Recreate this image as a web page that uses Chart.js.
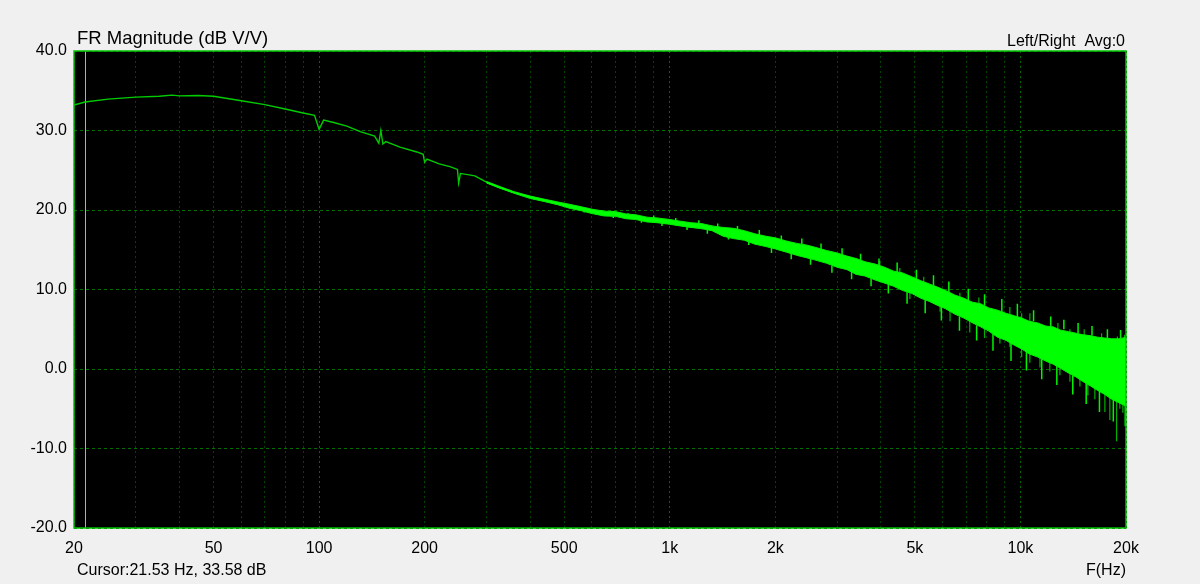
<!DOCTYPE html>
<html>
<head>
<meta charset="utf-8">
<script src="https://cdn.jsdelivr.net/npm/chart.js@4.4.0/dist/chart.umd.min.js"></script>
<style>
  html, body { margin: 0; padding: 0; background: #f0f0f0; }
  #wrap { width: 1200px; height: 584px; }
</style>
</head>
<body>
<div id="wrap"><canvas id="fr" width="1200" height="584"></canvas></div>
<script>
// texts
const titleText = 'FR Magnitude (dB V/V)';
const channelText = 'Left/Right  Avg:0';
const cursorText = 'Cursor:21.53 Hz, 33.58 dB';
const xAxisText = 'F(Hz)';
const cursorFreq = 21.53;

// x grid + labels
const gridFreqs = [20, 30, 40, 50, 60, 70, 80, 90, 100, 200, 300, 400, 500, 600, 700, 800, 900,
  1000, 2000, 3000, 4000, 5000, 6000, 7000, 8000, 9000, 10000, 20000];
const xLabelVals = [20, 50, 100, 200, 500, 1000, 2000, 5000, 10000, 20000];
const xLabelText = ['20', '50', '100', '200', '500', '1k', '2k', '5k', '10k', '20k'];

// main trace (center of the response)
const mainFreq = [20, 21.5, 25, 30, 35, 38, 40, 45, 50, 60, 70, 80, 90, 97, 100, 103, 110, 120, 131, 144,
  148, 150, 152, 155, 170, 190, 198, 200, 203, 220, 236, 248, 250, 253, 278, 300, 328, 360, 399, 440,
  486, 540, 592, 650, 721, 800, 878, 970, 1069, 1180, 1302, 1440, 1586, 1750, 1931, 2130, 2350, 2600,
  2862, 3150, 3486, 3850, 4245, 4680, 5169, 5700, 6300, 6722, 7400, 8185, 9000, 9966, 11000, 12134,
  13400, 14776, 16300, 17990, 20000];
const mainMag = [33.2, 33.58, 33.95, 34.2, 34.3, 34.45, 34.35, 34.4, 34.3, 33.75, 33.25, 32.7, 32.2, 31.9, 30.15, 31.3, 31.0, 30.55, 29.85, 29.3,
  28.4, 30.0, 28.3, 28.6, 27.9, 27.3, 27.0, 26.0, 26.4, 25.8, 25.45, 25.1, 23.4, 24.6, 24.3, 23.5, 22.8, 22.2, 21.6, 21.2,
  20.75, 20.25, 19.8, 19.55, 19.3, 18.95, 18.65, 18.4, 18.1, 17.8, 17.5, 17.2, 16.9, 16.4, 15.9, 15.45, 14.97, 14.5,
  14.0, 13.4, 12.7, 12.2, 11.6, 11.0, 10.2, 9.5, 8.6, 7.9, 7.2, 6.4, 5.7, 4.9, 4.1, 3.4,
  2.8, 2.2, 1.5, 0.9, 0.3];

// noise band envelope
const bandFreq = [300, 330, 360, 400, 440, 480, 520, 560, 600, 650,
  700, 750, 800, 860, 920, 1000, 1070, 1150, 1230, 1320,
  1420, 1520, 1630, 1750, 1880, 2000, 2150, 2300, 2450, 2600,
  2800, 3000, 3200, 3400, 3600, 3850, 4100, 4350, 4600, 4900,
  5200, 5500, 5800, 6100, 6500, 6900, 7300, 7700, 8100, 8600,
  9100, 9600, 10100, 10600, 11200, 11800, 12400, 13000, 13700, 14400,
  15100, 15800, 16600, 17400, 18200, 19000, 19600, 20000];
const bandHi = [23.6, 22.9, 22.3, 21.75, 21.35, 21.0, 20.7, 20.4, 20.1, 19.85,
  19.8, 19.5, 19.4, 19.1, 19.0, 18.8, 18.6, 18.4, 18.3, 18.0,
  17.8, 17.7, 17.4, 17.0, 16.7, 16.5, 16.1, 15.8, 15.6, 15.3,
  14.9, 14.6, 14.2, 13.9, 13.5, 13.2, 12.8, 12.3, 12.1, 11.6,
  11.1, 10.7, 10.3, 9.9, 9.3, 8.9, 8.4, 8.2, 7.7, 7.4,
  7.0, 6.7, 6.4, 6.0, 5.8, 5.4, 5.3, 4.9, 4.7, 4.5,
  4.3, 4.2, 4.0, 3.9, 3.8, 3.8, 3.9, 4.0];
const bandLo = [23.4, 22.7, 22.1, 21.45, 21.05, 20.65, 20.2, 19.9, 19.55, 19.25,
  19.2, 18.9, 18.8, 18.5, 18.4, 18.2, 18.0, 17.8, 17.7, 17.4,
  16.7, 16.4, 16.2, 15.7, 15.4, 15.1, 14.7, 14.3, 14.0, 13.7,
  13.3, 12.8, 12.5, 11.9, 11.7, 11.2, 10.8, 10.4, 9.9, 9.5,
  8.9, 8.5, 8.0, 7.6, 6.9, 6.4, 5.8, 5.3, 4.8, 4.0,
  3.6, 3.0, 2.5, 1.9, 1.5, 1.0, 0.6, 0.1, -0.5, -1.0,
  -1.6, -2.1, -2.7, -3.2, -3.8, -4.2, -4.5, -4.7];

// short bright spikes on the band edges
const edgeFreq = [520, 570, 640, 690, 760, 830, 900, 950, 1040, 1120,
  1210, 1280, 1370, 1470, 1560, 1680, 1800, 1950, 2080, 2220,
  2380, 2520, 2700, 2900, 3100, 3300, 3500, 3750, 3950, 4200,
  4450, 4750, 5050, 5350, 5650, 5950, 6250, 6700, 7100, 7500,
  7900, 8350, 8850, 9400, 9800, 10400, 10900, 11500, 12200, 12700,
  13300, 14100, 14600, 15400, 16000, 16800, 17700, 18400, 19300, 19900];
const edgeFrom = [20.4, 20.0, 19.7, 19.4, 19.2, 18.8, 18.9, 18.4, 18.6, 18.0,
  18.2, 17.5, 17.8, 16.9, 17.4, 16.3, 16.9, 15.3, 16.2, 14.5,
  15.7, 13.9, 15.1, 13.0, 14.4, 12.2, 13.7, 11.4, 13.0, 10.6,
  12.2, 9.7, 11.3, 8.7, 10.5, 7.8, 9.6, 6.6, 8.6, 5.5,
  8.0, 4.4, 7.2, 3.3, 6.5, 2.2, 6.0, 1.3, 5.4, 0.4,
  5.0, -0.8, 4.5, -1.8, 4.2, -2.8, 3.9, -3.7, 3.9, -4.5];
const edgeTo = [20.7, 19.7, 20.0, 19.0, 19.6, 18.4, 19.3, 18.0, 19.0, 17.5,
  18.7, 17.0, 18.3, 16.3, 18.0, 15.6, 17.5, 14.6, 16.8, 13.8,
  16.4, 13.1, 15.8, 12.1, 15.2, 11.3, 14.5, 10.4, 13.9, 9.5,
  13.4, 8.2, 12.5, 7.0, 11.8, 6.1, 11.0, 4.8, 10.1, 3.6,
  9.4, 2.3, 8.8, 1.0, 8.2, -0.2, 7.4, -1.3, 6.6, -2.0,
  6.2, -3.2, 5.8, -4.4, 5.4, -5.4, 5.0, -6.6, 4.9, -7.2];

// darker single spikes sticking out of the band
const spikeFreq = [3970, 4530, 4840, 5300, 5900, 6300, 6720, 7170, 7610, 7900, 8740, 9330, 9330, 10080, 10080,
  10640, 10640, 11370, 12130, 12790, 12960, 13840, 13840, 14780, 15200, 15570, 16300, 17040, 17410, 17990,
  18800, 18900, 19210, 19590, 19800];
const spikeFrom = [12.0, 11.2, 10.5, 10.0, 9.0, 8.5, 8.0, 7.3, 7.0, 6.8, 6.0, 5.5, 5.5, 4.9, 4.9,
  4.4, 4.4, 4.0, 3.5, 3.1, 3.0, 2.6, 2.6, 2.2, 2.0, 1.8, 1.5, 1.3, 1.1, 0.9,
  0.6, 0.6, 0.4, 0.3, 0.2];
const spikeTo = [13.6, 12.7, 8.8, 11.6, 7.2, 6.0, 9.6, 4.6, 9.0, 3.9, 3.2, 2.8, 7.8, 1.5, 7.0,
  0.8, 7.0, 0.2, -0.3, 5.8, -0.8, -1.6, 5.0, -2.2, 5.0, -3.3, -3.8, 4.5, -5.4, -6.4,
  -9.1, 4.1, -5.0, -5.5, 4.3];

const toPoints = (xs, ys) => xs.map((x, i) => ({ x: x, y: ys[i] }));
const toSegments = (xs, from, to) => {
  const pts = [];
  xs.forEach((f, i) => {
    pts.push({ x: f, y: from[i] }, { x: f, y: to[i] }, { x: f, y: null });
  });
  return pts;
};

const FONT = "'Liberation Sans', Arial, sans-serif";

const frPanel = {
  id: 'frPanel',
  beforeDraw(chart) {
    const { ctx, chartArea: a } = chart;
    ctx.save();
    ctx.fillStyle = '#f0f0f0';
    ctx.fillRect(0, 0, chart.width, chart.height);
    ctx.fillStyle = '#000000';
    ctx.fillRect(a.left, a.top, a.right - a.left, a.bottom - a.top);
    ctx.restore();
  },
  beforeDatasetsDraw(chart) {
    const { ctx, chartArea: a } = chart;
    const x = Math.round(chart.scales.x.getPixelForValue(cursorFreq)) + 0.5;
    ctx.save();
    ctx.strokeStyle = '#c8c000';
    ctx.lineWidth = 1;
    ctx.beginPath();
    ctx.moveTo(x, a.top);
    ctx.lineTo(x, a.bottom);
    ctx.stroke();
    ctx.restore();
  },
  afterDraw(chart) {
    const { ctx, chartArea: a } = chart;
    ctx.save();
    ctx.strokeStyle = '#00c000';
    ctx.lineWidth = 1.5;
    ctx.strokeRect(a.left, a.top, a.right - a.left, a.bottom - a.top);

    ctx.fillStyle = '#000000';
    ctx.textBaseline = 'alphabetic';
    ctx.font = '18.5px ' + FONT;
    ctx.textAlign = 'left';
    ctx.fillText(titleText, 77, 44);
    ctx.font = '16px ' + FONT;
    ctx.textAlign = 'right';
    ctx.fillText(channelText, 1125, 46);
    ctx.textAlign = 'left';
    ctx.fillText(cursorText, 77, 575);
    ctx.textAlign = 'right';
    ctx.fillText(xAxisText, 1126, 575);
    ctx.restore();
  }
};

const ctx = document.getElementById('fr').getContext('2d');
new Chart(ctx, {
  type: 'line',
  data: {
    datasets: [{
      label: 'edge spikes',
      data: toSegments(edgeFreq, edgeFrom, edgeTo),
      borderColor: '#00f400',
      borderWidth: 1.5,
      spanGaps: false,
      fill: false
    }, {
      label: 'band hi',
      data: toPoints(bandFreq, bandHi),
      borderColor: '#00f000',
      borderWidth: 1,
      fill: false
    }, {
      label: 'band lo',
      data: toPoints(bandFreq, bandLo),
      borderColor: '#00f000',
      borderWidth: 1,
      backgroundColor: '#00ff00',
      fill: '-1'
    }, {
      label: 'trace',
      data: toPoints(mainFreq, mainMag),
      borderColor: '#00cc00',
      borderWidth: 1.4,
      fill: false
    }, {
      label: 'spikes',
      data: toSegments(spikeFreq, spikeFrom, spikeTo),
      borderColor: '#00b000',
      borderWidth: 1.2,
      spanGaps: false,
      fill: false
    }]
  },
  options: {
    responsive: false,
    animation: false,
    events: [],
    layout: {
      padding: { top: 51, right: 74, bottom: 0, left: 0 }
    },
    elements: {
      point: { radius: 0 },
      line: { tension: 0 }
    },
    plugins: {
      legend: { display: false },
      tooltip: { enabled: false }
    },
    scales: {
      x: {
        type: 'logarithmic',
        min: 20,
        max: 20000,
        afterBuildTicks: (scale) => {
          scale.ticks = gridFreqs.map(v => ({ value: v }));
        },
        afterFit: (scale) => {
          scale.height = 56;
        },
        grid: {
          drawTicks: false,
          color: (c) => [100, 1000, 10000].includes(c.tick && c.tick.value) ? '#006a00' : '#004400'
        },
        border: { display: false, dash: [2, 3] },
        ticks: {
          autoSkip: false,
          maxRotation: 0,
          minRotation: 0,
          padding: 11,
          color: '#000000',
          font: { family: FONT, size: 16 },
          callback: function(value) {
            const i = xLabelVals.indexOf(value);
            return i >= 0 ? xLabelText[i] : '';
          }
        }
      },
      y: {
        min: -20,
        max: 40,
        afterFit: (scale) => {
          scale.width = 74;
        },
        grid: {
          drawTicks: false,
          color: '#007000'
        },
        border: { display: false, dash: [3, 3] },
        ticks: {
          stepSize: 10,
          padding: 7,
          color: '#000000',
          font: { family: FONT, size: 16 },
          callback: function(value) {
            return value.toFixed(1);
          }
        }
      }
    }
  },
  plugins: [frPanel]
});
</script>
</body>
</html>
